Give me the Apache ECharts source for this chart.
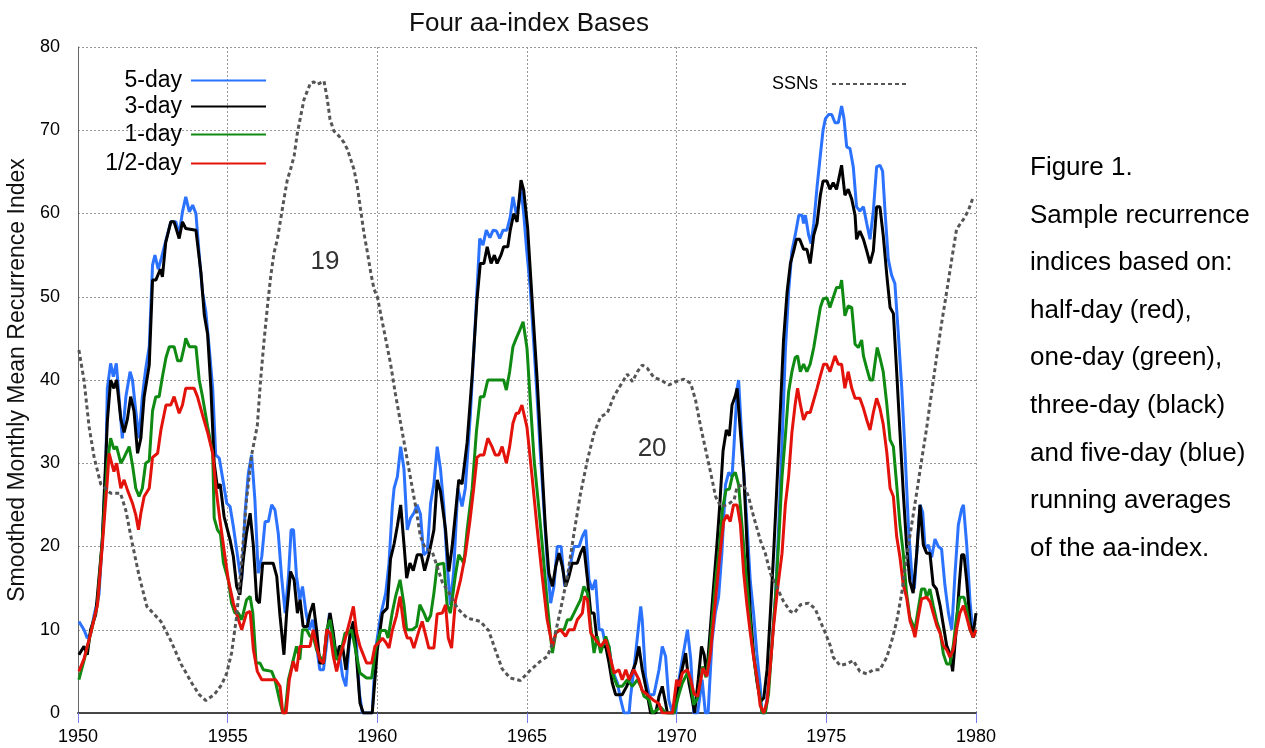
<!DOCTYPE html>
<html>
<head>
<meta charset="utf-8">
<title>Four aa-index Bases</title>
<script src="https://cdn.jsdelivr.net/npm/echarts@6.0.0/dist/echarts.min.js"></script>
<style>
    html, body { margin: 0; padding: 0; background: #fff; }
    #chart { width: 1265px; height: 748px; }
</style>
</head>
<body>
<div id="chart"></div>
<script>
    // values, [year, index]
    const fiveDay = [
        [1950.03,11],[1950.2,10],[1950.31,9],[1950.42,9.5],[1950.54,11.8],[1950.7,14.2],[1950.81,20.6],[1950.93,29.8],[1950.98,39],
        [1951.09,42],[1951.18,40.4],[1951.28,42],[1951.37,38],[1951.48,33],[1951.6,38],[1951.74,41],[1951.82,40],[1951.93,36.3],
        [1952.04,33],[1952.15,38],[1952.26,41.3],[1952.38,44],[1952.49,53.8],[1952.57,55],[1952.68,53.3],[1952.79,54.7],[1952.88,56],[1952.99,57.5],
        [1953.1,59],[1953.27,59],[1953.38,57.5],[1953.49,60.2],[1953.6,62],[1953.72,60.2],[1953.83,61],[1953.94,60],
        [1954.05,55],[1954.16,50.5],[1954.27,48.2],[1954.39,43.6],[1954.5,39],[1954.6,31],[1954.72,30.6],[1954.86,27.6],[1954.97,25.2],
        [1955.08,24.8],[1955.19,22.4],[1955.3,19.6],[1955.41,16.8],[1955.47,16],[1955.58,24],[1955.69,28.8],[1955.8,31],[1955.91,25.6],
        [1956.02,16.8],[1956.14,18.8],[1956.25,23],[1956.36,23],[1956.47,25],[1956.58,24.4],[1956.69,21.6],[1956.8,16.4],[1956.92,12],
        [1957.03,16.4],[1957.12,22],[1957.2,22],[1957.3,16.4],[1957.41,13.6],[1957.5,15.2],[1957.62,12],[1957.73,10],[1957.84,11.2],[1957.97,8],
        [1958.08,5.2],[1958.2,5.2],[1958.31,8.4],[1958.4,12],[1958.51,9.6],[1958.62,6.8],[1958.73,7.2],[1958.84,4.4],[1958.95,3.2],
        [1959.07,8.8],[1959.18,10],[1959.29,8.8],[1959.4,2.4],[1959.5,0],[1959.83,0],[1959.94,7.6],
        [1960.11,11.7],[1960.28,14.4],[1960.39,18],[1960.5,24.8],[1960.56,27],[1960.67,28.4],[1960.78,32],[1960.89,29.3],
        [1961,22],[1961.11,23.4],[1961.22,24],[1961.33,25],[1961.44,23.9],[1961.55,19],[1961.67,19.4],[1961.78,25.2],[1961.89,27.5],
        [1962,32],[1962.11,29.3],[1962.22,24.8],[1962.33,18],[1962.44,13],[1962.55,17],[1962.69,27],[1962.83,24.8],[1962.94,27],
        [1963.11,36],[1963.28,47.4],[1963.42,57],[1963.53,56.2],[1963.64,58],[1963.76,57.1],[1963.87,58],[1963.98,57.9],
        [1964.09,57],[1964.2,58],[1964.33,58],[1964.44,59.6],[1964.53,62],[1964.64,60],[1964.72,61],[1964.8,63],[1964.89,60],[1964.98,56],
        [1965.11,51],[1965.22,44.7],[1965.33,38.4],[1965.44,31.6],[1965.56,24.8],[1965.67,18.5],[1965.79,13.2],[1965.9,15.2],
        [1966.01,20],[1966.14,20],[1966.26,15.2],[1966.35,16],[1966.46,18],[1966.57,20],[1966.74,20],[1966.85,21.2],[1966.96,22],
        [1967.07,16],[1967.18,14.8],[1967.29,16],[1967.41,10],[1967.52,10],[1967.63,8],[1967.74,8],[1967.85,5.2],
        [1968.02,3.6],[1968.13,1.6],[1968.24,0],[1968.41,0],[1968.46,2],[1968.57,5.2],[1968.69,9.2],[1968.8,12.8],[1968.85,11.2],[1968.96,4.4],
        [1969.08,2.2],[1969.24,2.2],[1969.41,5.2],[1969.52,8],[1969.63,6.8],[1969.74,1.5],[1969.86,0],[1969.97,0],
        [1970.08,4.1],[1970.22,7.1],[1970.36,10],[1970.47,6.5],[1970.57,0],[1970.7,0],[1970.85,4],[1970.96,0],
        [1971.05,0],[1971.18,8.6],[1971.29,12],[1971.4,13.9],[1971.51,19.2],[1971.63,27.4],[1971.74,28.9],[1971.85,28.4],[1971.91,31.8],
        [1972.02,39],[1972.07,40],[1972.13,36],[1972.24,28.9],[1972.35,22.6],[1972.46,15.8],[1972.57,12],[1972.68,7.1],[1972.79,3.3],[1972.85,0],[1972.96,0],
        [1973.07,3.3],[1973.18,8.1],[1973.3,13.9],[1973.41,22.6],[1973.52,32.3],[1973.63,43.4],[1973.74,50.6],[1973.85,55.5],[1973.96,57.4],
        [1974.08,59.8],[1974.19,59.8],[1974.24,58.8],[1974.3,59.8],[1974.41,57.4],[1974.49,56.4],[1974.58,58.8],[1974.69,63.2],[1974.8,67],[1974.89,70],[1974.97,71.4],
        [1975.08,71.9],[1975.18,71.9],[1975.29,70.9],[1975.4,70.9],[1975.51,72.9],[1975.59,71.4],[1975.68,68],[1975.79,67.8],[1975.9,65.6],
        [1976.01,60.8],[1976.12,60.3],[1976.24,60.8],[1976.35,58.8],[1976.46,56.9],[1976.57,60.3],[1976.68,65.6],[1976.79,65.8],[1976.88,65.1],[1976.96,60.3],
        [1977.07,54.5],[1977.18,52.6],[1977.29,51.6],[1977.4,45.8],[1977.52,39],[1977.63,31.3],[1977.74,22.6],[1977.85,16.8],[1977.94,14.9],
        [1978.02,19.2],[1978.13,25],[1978.22,24.1],[1978.3,19.7],[1978.41,20.2],[1978.52,18.7],[1978.63,20.9],[1978.74,20],[1978.85,19.7],[1978.96,15.4],
        [1979.08,12],[1979.19,10],[1979.3,16.8],[1979.41,22.6],[1979.52,24.5],[1979.58,25],[1979.69,20.2],[1979.8,13.4],[1979.91,9.1],[1980,10]
    ];

    const threeDay = [
        [1950.03,7],[1950.2,8],[1950.31,7],[1950.42,10],[1950.59,11.8],[1950.81,20.6],[1950.98,35],
        [1951.09,40],[1951.2,39],[1951.29,40],[1951.43,35.3],[1951.54,33.7],[1951.65,35.3],[1951.76,38],[1951.87,36.3],[1951.99,31.2],
        [1952.1,33],[1952.21,38],[1952.38,41.8],[1952.49,52],[1952.6,52],[1952.75,53.3],[1952.82,52.4],[1952.93,56.5],
        [1953.1,59],[1953.21,59],[1953.38,57],[1953.49,59],[1953.6,58.2],[1953.94,58],
        [1954.11,52.8],[1954.22,47.8],[1954.33,45.5],[1954.44,39],[1954.55,30],[1954.66,27],[1954.75,27.5],[1954.88,23.6],
        [1955.08,20.8],[1955.19,18.8],[1955.3,15.2],[1955.41,14.2],[1955.52,18.4],[1955.63,21.6],[1955.75,24],[1955.86,20],[1955.97,13.6],
        [1956.06,13.2],[1956.17,18],[1956.3,18],[1956.52,18],[1956.64,16.4],[1956.75,11.6],[1956.88,7],[1956.97,12],
        [1957.1,17],[1957.22,16],[1957.33,12],[1957.42,13.6],[1957.52,10.4],[1957.66,10.4],[1957.75,12],[1957.86,13.2],[1957.97,10],
        [1958.08,6],[1958.2,6],[1958.31,9.6],[1958.42,12],[1958.53,9.6],[1958.64,6.4],[1958.73,8],[1958.84,8],[1958.95,5.2],
        [1959.09,9.6],[1959.2,11],[1959.31,6.4],[1959.42,1.2],[1959.53,0],[1959.83,0],
        [1960,7.6],[1960.17,12],[1960.33,12.6],[1960.44,18.5],[1960.56,20.3],[1960.67,22.5],[1960.78,25],[1960.89,20.3],[1960.98,16.2],
        [1961.09,18],[1961.2,17.1],[1961.33,19],[1961.47,19],[1961.58,17.1],[1961.72,19],[1961.89,22],
        [1962,28],[1962.11,26.6],[1962.28,22],[1962.39,17],[1962.5,20],[1962.61,24],[1962.72,28],[1962.83,27.5],
        [1963,32.5],[1963.17,40.6],[1963.33,49.7],[1963.44,54],[1963.56,54],[1963.67,56],[1963.8,54],[1963.91,55],
        [1964,54],[1964.13,55],[1964.22,56],[1964.36,56],[1964.44,58],[1964.56,60],[1964.67,59],[1964.72,61],[1964.8,64],[1964.89,62.8],
        [1965.02,58.3],[1965.17,49.7],[1965.33,40.6],[1965.47,31.6],[1965.61,22.5],[1965.73,16.8],[1965.85,15.2],[1965.96,17.6],
        [1966.07,19.2],[1966.18,17.6],[1966.29,15.2],[1966.4,16.4],[1966.51,18],[1966.68,18],[1966.79,19.2],[1966.9,20],
        [1967.01,16.4],[1967.13,12],[1967.24,12],[1967.35,8.4],[1967.46,8],[1967.63,8],[1967.74,6],[1967.85,3.6],[1967.96,2.2],
        [1968.18,2.2],[1968.33,3.2],[1968.46,4.4],[1968.63,6],[1968.74,8],[1968.85,5.2],
        [1969.02,2.2],[1969.13,0],[1969.3,0],[1969.41,2],[1969.52,3.2],[1969.63,1.2],[1969.69,0],[1969.91,0],
        [1970.02,2.2],[1970.13,4.4],[1970.3,7.2],[1970.41,3.6],[1970.52,1.6],[1970.6,0],[1970.72,4],[1970.83,8],[1970.92,7],
        [1971,4.5],[1971.1,9],[1971.22,14.6],[1971.33,19.5],[1971.44,25],[1971.55,31.5],[1971.66,34],[1971.76,33.3],[1971.85,37],[1971.96,38.1],
        [1972.02,39],[1972.13,33.7],[1972.24,28.9],[1972.35,20.2],[1972.46,12],[1972.57,7.1],[1972.68,3.8],[1972.8,1.4],[1972.91,1.8],
        [1973.02,5.2],[1973.13,12],[1973.24,19.2],[1973.35,27.4],[1973.46,36.1],[1973.57,44.8],[1973.69,50.6],[1973.8,54],[1973.91,55.5],
        [1974,56.9],[1974.11,56.9],[1974.24,55.7],[1974.35,55.7],[1974.46,54],[1974.58,57.4],[1974.69,58.8],[1974.8,62.2],[1974.89,63.9],
        [1975.02,63.9],[1975.12,62.9],[1975.23,63.7],[1975.34,62.9],[1975.4,63.9],[1975.51,65.8],[1975.62,62.2],[1975.73,62.9],[1975.85,61.7],[1975.96,59.8],
        [1976.01,56.9],[1976.12,57.9],[1976.24,56.9],[1976.35,55.5],[1976.46,54],[1976.57,55.5],[1976.68,60.8],[1976.79,60.8],[1976.9,57.4],
        [1977.02,52.6],[1977.13,48.7],[1977.24,48],[1977.35,41],[1977.46,33.7],[1977.57,26.5],[1977.68,20.2],[1977.79,15.8],[1977.9,14.4],
        [1978.02,19.2],[1978.13,25],[1978.24,20.2],[1978.35,19.2],[1978.46,19.2],[1978.57,15.4],[1978.68,14.9],[1978.8,12.9],[1978.91,10.5],
        [1979.02,8.1],[1979.13,7.1],[1979.22,5],[1979.33,9.6],[1979.44,15.4],[1979.52,19],[1979.6,19],[1979.69,15.8],[1979.8,11],[1979.89,9.1],[1980,12]
    ];

    const oneDay = [
        [1950.03,4],[1950.2,6.3],[1950.42,9.5],[1950.65,13],[1950.81,20.6],[1950.98,30],
        [1951.09,33],[1951.2,31.7],[1951.29,32],[1951.43,30],[1951.54,30.7],[1951.71,32],[1951.82,29.8],[1951.93,27],
        [1952.04,26],[1952.15,27],[1952.26,30],[1952.38,30.3],[1952.49,36.3],[1952.6,38],[1952.71,38],[1952.82,40.4],[1952.94,42.7],
        [1953.05,44],[1953.21,44],[1953.33,42.3],[1953.44,42.3],[1953.55,44],[1953.6,45],[1953.72,44],[1953.94,44],
        [1954.05,40],[1954.16,38],[1954.33,34.4],[1954.5,31.2],[1954.55,23.4],[1954.66,22],[1954.76,21.5],[1954.86,18],
        [1955.02,16],[1955.13,13.2],[1955.24,12],[1955.36,12],[1955.47,11.2],[1955.63,13.6],[1955.75,14],[1955.84,12],[1955.95,6],
        [1956.08,6],[1956.19,5.2],[1956.47,5],[1956.58,4],[1956.73,1.6],[1956.84,0],[1956.92,0],
        [1957.03,4],[1957.14,5.6],[1957.3,8],[1957.41,6.4],[1957.5,10],[1957.64,10],[1957.75,9.2],[1957.86,9.2],[1957.97,7.6],
        [1958.08,6.8],[1958.2,6],[1958.31,10],[1958.42,11.2],[1958.53,8.8],[1958.64,6.4],[1958.75,6.8],[1958.92,9.6],
        [1959.03,9.6],[1959.14,10],[1959.25,8],[1959.42,4.8],[1959.64,4.2],[1959.81,4.2],[1959.94,7.6],
        [1960.11,9.9],[1960.28,9.9],[1960.36,9],[1960.5,12.1],[1960.61,14],[1960.76,16],[1960.89,13],[1960.98,10],
        [1961.17,10],[1961.31,10.4],[1961.42,13],[1961.56,12],[1961.67,11],[1961.78,11.7],[1961.89,14.4],
        [1962,17.8],[1962.22,18],[1962.33,13],[1962.44,12],[1962.61,16.6],[1962.72,19],[1962.89,18],
        [1963,22],[1963.17,27],[1963.31,33.8],[1963.44,38],[1963.56,38],[1963.69,40],
        [1964.22,40],[1964.31,38.8],[1964.42,41],[1964.53,44],[1964.64,45],[1964.76,46],[1964.87,47],
        [1965,43.8],[1965.11,37.5],[1965.24,30.3],[1965.39,24.8],[1965.53,19.4],[1965.67,13.5],[1965.78,9.4],[1965.85,7.2],[1965.96,9.6],
        [1966.07,10],[1966.24,10],[1966.35,11.2],[1966.46,11.2],[1966.57,12],[1966.68,12.8],[1966.79,13.6],[1966.9,15.2],
        [1967.02,14.4],[1967.13,10.4],[1967.24,7.2],[1967.35,9.2],[1967.46,7.2],[1967.63,9.2],[1967.74,8],[1967.85,4.8],
        [1968.02,3.2],[1968.18,3.2],[1968.35,4],[1968.52,3.2],[1968.69,4],[1968.8,3.2],[1968.91,2],
        [1969.08,1.6],[1969.19,0],[1969.47,0.7],[1969.63,0],[1969.91,0],
        [1970.08,2.3],[1970.19,3.6],[1970.36,4.8],[1970.47,3.6],[1970.57,1],[1970.7,1.8],[1970.87,5.6],[1970.98,4.3],
        [1971.1,7.3],[1971.21,12],[1971.32,16.5],[1971.43,20],[1971.53,24.5],[1971.65,26.8],[1971.76,26.9],[1971.86,28.5],[1971.96,28.9],
        [1972.07,27.4],[1972.18,22.6],[1972.29,17.8],[1972.4,13.4],[1972.51,8.6],[1972.63,5.2],[1972.74,2.8],[1972.85,0],[1972.96,0],
        [1973.07,2.3],[1973.18,8.1],[1973.3,13.9],[1973.41,20.7],[1973.52,28.4],[1973.63,33.2],[1973.74,38.6],[1973.85,41],[1973.96,42.7],
        [1974.04,42.9],[1974.13,41],[1974.24,41.9],[1974.35,41],[1974.46,41.9],[1974.58,43.9],[1974.69,46.3],[1974.8,48.7],[1974.89,49.7],
        [1975.02,49.9],[1975.12,48.7],[1975.23,49.9],[1975.34,51.1],[1975.46,51.1],[1975.51,52],[1975.62,47.7],[1975.73,48.9],[1975.85,48.7],[1975.96,44.3],
        [1976.07,43.9],[1976.18,44.8],[1976.24,42.9],[1976.35,41.4],[1976.46,40],[1976.55,40],[1976.62,41.9],[1976.7,43.9],[1976.79,42.7],[1976.9,41],
        [1977.02,37.1],[1977.13,32.8],[1977.24,32],[1977.35,27.4],[1977.46,22.6],[1977.57,19.2],[1977.68,14.4],[1977.79,11.5],[1977.96,10],
        [1978.07,12.5],[1978.18,14.9],[1978.29,14.9],[1978.35,13.9],[1978.46,14.9],[1978.57,12.9],[1978.69,11],[1978.8,9.8],[1978.91,7.1],
        [1979.02,5.9],[1979.13,5.9],[1979.24,8.1],[1979.35,11.5],[1979.46,13.9],[1979.6,13.9],[1979.69,12.5],[1979.8,10],[1979.91,9.1],[1980,10]
    ];

    const halfDay = [
        [1950.03,5],[1950.2,6.5],[1950.42,9.5],[1950.65,13],[1950.81,20],[1950.98,28],
        [1951.04,31.2],[1951.2,29],[1951.29,30],[1951.43,27],[1951.54,28],[1951.65,26.8],[1951.82,25.2],[1951.93,23.8],
        [1952.02,22],[1952.1,24],[1952.21,26],[1952.38,27],[1952.49,30.7],[1952.66,31.2],[1952.77,34],[1952.94,37],
        [1953.1,37],[1953.21,38],[1953.38,36],[1953.49,37],[1953.6,39],[1953.88,39],[1953.99,38],
        [1954.16,35.8],[1954.33,33.7],[1954.5,31.2],[1954.61,27],[1954.73,23.5],[1954.91,18.8],
        [1955.02,16],[1955.19,13.2],[1955.36,11.2],[1955.47,10],[1955.63,12],[1955.75,12.2],[1955.86,7.6],[1955.99,5],
        [1956.14,4],[1956.6,4],[1956.75,3.2],[1956.84,0],[1956.95,0],
        [1957.06,4],[1957.19,6.2],[1957.3,5],[1957.41,8],[1957.58,8],[1957.75,8],[1957.86,10],[1957.97,8],
        [1958.08,6.4],[1958.2,6],[1958.31,10],[1958.42,9.6],[1958.53,6.8],[1958.64,5],[1958.75,6.8],[1958.92,8.8],
        [1959.09,11.2],[1959.2,12.8],[1959.31,9.6],[1959.42,8],[1959.64,6],[1959.81,6],[1959.92,8],
        [1960.06,8.5],[1960.17,9],[1960.28,8.5],[1960.39,7.8],[1960.5,9.9],[1960.64,11.7],[1960.76,14],[1960.89,10.3],
        [1961,9],[1961.11,9],[1961.22,7.8],[1961.39,9.9],[1961.5,11],[1961.61,9.4],[1961.72,7.8],[1961.89,7.8],
        [1962,11.9],[1962.17,12],[1962.28,13],[1962.37,9],[1962.48,7.8],[1962.61,13.5],[1962.78,16],[1962.94,19],
        [1963.09,23],[1963.22,27],[1963.33,30.7],[1963.44,31],[1963.56,31],[1963.69,33],[1963.83,32],[1963.94,31],
        [1964.06,31],[1964.17,32],[1964.31,30],[1964.42,32],[1964.53,34.8],[1964.64,36],[1964.72,36],[1964.83,37],
        [1965,34.3],[1965.17,28.4],[1965.33,22.5],[1965.5,16.7],[1965.67,11.3],[1965.85,8],[1965.96,9.6],
        [1966.12,10],[1966.29,9.2],[1966.4,10],[1966.57,10],[1966.68,11.2],[1966.85,12],[1966.92,14],
        [1967.02,13.6],[1967.13,9.6],[1967.29,8.8],[1967.46,8],[1967.63,8.8],[1967.8,6.4],[1967.91,4.8],
        [1968.07,5.2],[1968.18,4],[1968.3,5.2],[1968.41,4],[1968.57,5.2],[1968.74,4],[1968.85,2.7],
        [1969.02,2.2],[1969.24,1.5],[1969.41,1.1],[1969.52,0],[1969.86,0],
        [1970,4],[1970.08,3.2],[1970.19,4.8],[1970.36,5.2],[1970.47,4],[1970.58,2.3],[1970.7,2],[1970.88,5.4],
        [1971.01,4.4],[1971.13,7.2],[1971.27,12.5],[1971.43,18.5],[1971.57,23],[1971.68,23.8],[1971.79,23],[1971.9,25],
        [1972.02,25],[1972.13,22.6],[1972.24,16.8],[1972.35,12.9],[1972.46,9.6],[1972.57,6.7],[1972.68,4.3],[1972.79,0.9],[1972.91,0],
        [1973.02,1.4],[1973.13,5.7],[1973.24,10.5],[1973.37,14.9],[1973.52,19.2],[1973.63,25],[1973.74,28.4],[1973.85,33.7],[1973.96,37.1],
        [1974.04,39],[1974.13,37.1],[1974.24,35.2],[1974.35,36.1],[1974.46,36.1],[1974.58,37.6],[1974.69,39],[1974.8,40.5],[1974.91,41.9],
        [1975.01,41.9],[1975.12,41],[1975.29,42.9],[1975.4,41.9],[1975.51,41.9],[1975.62,39],[1975.73,41],[1975.85,39],[1975.96,37.8],
        [1976.12,37.8],[1976.24,36.6],[1976.35,35.2],[1976.46,34],[1976.57,36.1],[1976.68,37.8],[1976.79,36.6],[1976.9,34.7],
        [1977.02,31.3],[1977.13,27],[1977.24,26],[1977.35,21.2],[1977.46,18.7],[1977.57,15.4],[1977.68,13.9],[1977.8,11],[1977.9,10],[1977.96,9.1],
        [1978.07,11.5],[1978.18,13.7],[1978.35,13.9],[1978.46,13.4],[1978.57,12],[1978.69,10.5],[1978.8,9.6],[1978.91,8.1],
        [1979.02,7.6],[1979.13,6.7],[1979.24,7.6],[1979.35,10],[1979.46,12],[1979.58,12.9],[1979.69,11.5],[1979.8,10],[1979.91,9.1],[1980,10]
    ];

    const ssn = [
        [1950.03,43.6],[1950.2,40],[1950.37,34.4],[1950.54,30.7],[1950.76,27.5],[1951.09,26.4],[1951.42,26.4],[1951.6,24.3],[1951.8,20.6],
        [1952.04,16.5],[1952.3,12.8],[1952.77,11],[1953.1,8.7],[1953.44,5.9],[1953.8,3.6],[1954.05,2.2],[1954.27,1.5],[1954.55,2.2],[1954.8,3.4],
        [1954.97,4.8],[1955.13,7.2],[1955.3,11.6],[1955.47,18.4],[1955.63,25.6],[1955.8,31],[1955.99,34.5],
        [1956.1,40],[1956.21,44.5],[1956.33,48.9],[1956.44,52.5],[1956.55,55.3],[1956.66,56.9],[1956.77,59.3],[1956.88,61.7],[1956.99,64],
        [1957.1,65.3],[1957.22,66.9],[1957.33,69.7],[1957.44,71.7],[1957.55,73.7],[1957.66,74.7],[1957.77,75.7],[1957.88,75.8],[1957.99,75.5],
        [1958.1,75.7],[1958.22,75.9],[1958.33,73.7],[1958.42,71.3],[1958.55,69.9],[1958.72,69.3],[1958.89,68.5],
        [1959,67.7],[1959.11,66.5],[1959.22,65.3],[1959.33,63.3],[1959.44,60.5],[1959.55,57.7],[1959.67,55.3],[1959.78,52.9],[1959.89,50.9],
        [1960,50],[1960.22,46],[1960.44,42],[1960.6,38.4],[1960.78,34.8],[1960.94,31.6],[1961.1,28.4],[1961.28,24.8],[1961.44,21.2],[1961.6,19.8],[1961.83,19.4],
        [1962,17.6],[1962.17,15.7],[1962.4,14.4],[1962.67,12.6],[1963,11.4],[1963.44,11],[1963.72,9.9],[1963.94,7.6],
        [1964.17,5.3],[1964.44,4.2],[1964.78,3.9],[1965.1,5.1],[1965.44,6.2],[1965.68,6.8],[1965.9,8.8],
        [1966.12,12.4],[1966.35,16.4],[1966.57,21.6],[1966.79,26.4],[1967.02,30.4],[1967.24,33.6],[1967.46,35.6],[1967.68,36],[1967.9,38],
        [1968.13,39.4],[1968.35,40.7],[1968.52,39.8],[1968.69,41],[1968.85,41.8],[1969.02,41.4],[1969.24,40.3],[1969.47,40],[1969.74,39.4],[1969.97,39.8],
        [1970.24,40.1],[1970.47,39.6],[1970.63,37.6],[1970.8,34.4],[1970.97,31.6],[1971.14,28.8],[1971.3,26],[1971.47,24.8],[1971.69,25],[1971.92,25.6],
        [1972.02,27.2],[1972.24,27.4],[1972.4,26],[1972.57,23.6],[1972.8,20.7],[1972.96,19.2],[1973.13,16.8],[1973.35,15.1],[1973.57,13.4],[1973.8,12.2],[1973.93,12],
        [1974.13,13],[1974.41,13.2],[1974.63,12.5],[1974.8,11],[1974.97,9.6],[1975.13,8.1],[1975.23,6.7],[1975.46,5.7],[1975.68,5.9],[1975.9,6.3],
        [1976.12,5],[1976.35,4.7],[1976.57,5.2],[1976.79,5.2],[1977.02,6.7],[1977.18,8.6],[1977.35,11],[1977.52,14.4],[1977.68,18.7],[1977.85,22.6],
        [1978.02,26.5],[1978.18,30.3],[1978.35,34.2],[1978.52,38.6],[1978.69,42.9],[1978.85,46.8],[1979.02,50.6],[1979.19,54.5],[1979.35,58.1],
        [1979.58,59.3],[1979.74,60.3],[1979.91,62]
    ];

    // solar cycle numbers, placed in data units
    const cycleLabels = [
        { name: '19', coord: [1958.25, 54.2] },
        { name: '20', coord: [1969.18, 31.7] }
    ];

    const captionLines = [
        'Figure 1.',
        'Sample recurrence',
        'indices based on:',
        'half-day (red),',
        'one-day (green),',
        'three-day (black)',
        'and five-day (blue)',
        'running averages',
        'of the aa-index.'
    ];

    const FONT = '"Liberation Sans", Arial, Helvetica, sans-serif';

    const lineSeries = (name, data, color, extra) => Object.assign({
        name: name,
        type: 'line',
        data: data,
        symbol: 'none',
        lineStyle: { color: color, width: 3 },
        itemStyle: { color: color },
        z: 3
    }, extra || {});

    // one legend box per entry so the line icons line up on the right
    const legendItem = (name, top, right, fontSize, gap) => ({
        data: [name],
        orient: 'horizontal',
        align: 'right',
        top: top,
        right: right,
        itemWidth: 75,
        itemHeight: 14,
        selectedMode: false,
        itemStyle: { opacity: 0 },
        textStyle: { fontFamily: FONT, fontSize: fontSize, color: '#000', padding: [0, gap, 0, 0] }
    });

    const chart = echarts.init(document.getElementById('chart'));
    chart.setOption({
        animation: false,
        backgroundColor: '#fff',
        title: {
            text: 'Four aa-index Bases',
            left: 524,
            textAlign: 'center',
            top: 6,
            textStyle: { fontFamily: FONT, fontSize: 26, fontWeight: 'normal', color: '#111' }
        },
        legend: [
            legendItem('5-day', 64, 993, 23, 4),
            legendItem('3-day', 90, 993, 23, 4),
            legendItem('1-day', 118, 993, 23, 4),
            legendItem('1/2-day', 147, 993, 23, 4),
            legendItem('SSNs', 70, 352, 18, 9)
        ],
        grid: { left: 78, top: 47, width: 898, height: 666, containLabel: false, outerBoundsMode: 'none' },
        xAxis: {
            type: 'value',
            min: 1950,
            max: 1980,
            interval: 5,
            axisLine: { lineStyle: { color: '#444', width: 2, type: [2, 1] } },
            axisTick: { show: true, length: 10, lineStyle: { color: '#7a7aee', width: 1 } },
            axisLabel: {
                fontFamily: FONT, fontSize: 18, color: '#000', margin: 15,
                formatter: v => String(v)
            },
            splitLine: { show: true, lineStyle: { color: '#999', width: 1, type: [2, 2] } }
        },
        yAxis: {
            type: 'value',
            min: 0,
            max: 80,
            interval: 10,
            name: 'Smoothed Monthly Mean Recurrence Index',
            nameLocation: 'middle',
            nameGap: 44,
            nameTextStyle: { fontFamily: FONT, fontSize: 23, color: '#111' },
            axisLine: { show: true, lineStyle: { color: '#666', width: 1 } },
            axisTick: { show: false },
            axisLabel: { fontFamily: FONT, fontSize: 18, color: '#000', margin: 18 },
            splitLine: { show: true, lineStyle: { color: '#999', width: 1, type: [2, 2] } }
        },
        series: [
            lineSeries('5-day', fiveDay, '#2b72ff'),
            lineSeries('3-day', threeDay, '#000000'),
            lineSeries('1-day', oneDay, '#0f8a12'),
            lineSeries('1/2-day', halfDay, '#e3120b'),
            lineSeries('SSNs', ssn, '#555555', {
                lineStyle: { color: '#555555', width: 3, type: [4, 3] },
                z: 4,
                markPoint: {
                    symbol: 'circle',
                    symbolSize: 2,
                    itemStyle: { color: 'rgba(0,0,0,0)' },
                    label: {
                        show: true,
                        position: 'inside',
                        formatter: '{b}',
                        fontFamily: FONT,
                        fontSize: 26,
                        color: '#333'
                    },
                    data: cycleLabels
                }
            })
        ],
        graphic: [{
            type: 'text',
            left: 1030,
            top: 144,
            style: {
                text: captionLines.join('\n'),
                font: '26px ' + FONT,
                lineHeight: 47.6,
                fill: '#000'
            }
        }]
    });
</script>
</body>
</html>
